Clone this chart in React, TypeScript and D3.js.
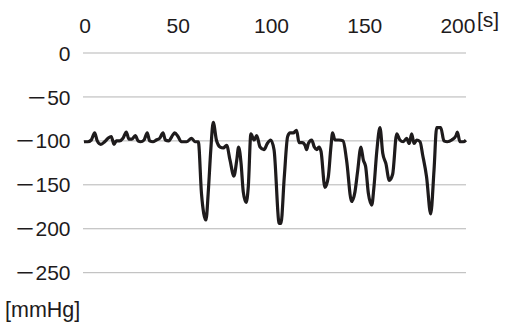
import * as d3 from 'd3';
import React from 'react';

// time [s] and pressure [mmHg]
const times = [
  0, 2, 3.9, 5.7, 7.1, 9, 11.1, 12.9, 14.6, 16.1, 17.3, 19.1, 20.9, 22.7, 24.1, 25.7,
  27.5, 29, 30.4, 32.2, 33.9, 35.2, 37, 38.8, 40.6, 42.4, 43.6, 45.4, 47.7, 48.6, 50.4,
  52.2, 55, 57.7, 59.5, 61.3, 63, 65.4, 66.7, 68, 69.3, 71, 73, 74.7, 76.5, 78.3, 80.4,
  81.9, 82.9, 84.2, 85.4, 86.9, 88.1, 89.5, 91.2, 92.6, 94.4, 96.5, 98.3, 100.1, 101.9,
  104.7, 105.6, 107.4, 109.2, 110.5, 112.2, 114, 115.3, 117, 118.5, 119.4, 120.3, 122.1,
  123.5, 124.8, 126, 127.1, 129.2, 131, 132.4, 133.3, 134.6, 136.7, 139, 140.8, 143.5,
  145.3, 146.7, 148.5, 149.8, 151, 152.5, 154.3, 155.5, 157, 158.7, 160.2, 161.9, 163.7,
  165.5, 167.7, 169.4, 171.2, 173, 174.4, 175.7, 177, 178.4, 180.2, 181.6, 183.7, 185.9,
  187.7, 189.1, 191.3, 193, 194.8, 197.2, 199.5, 200.2, 201.6, 203.4, 204.8,
];
const pressures = [
  -101, -101, -99, -91, -100, -104, -101, -97, -95, -104, -100, -100, -97, -90, -98, -98,
  -94, -100, -101, -99, -91, -100, -101, -99, -97, -91, -99, -100, -93, -91, -95,
  -101, -101, -97, -101, -101, -160, -190, -156, -110, -79, -99, -107, -108, -105, -122, -140,
  -122, -107, -125, -158, -170, -152, -92, -99, -94, -107, -110, -103, -99, -110,
  -194, -194, -141, -95, -91, -91, -88, -102, -102, -105, -110, -103, -99,
  -107, -110, -107, -112, -153, -141, -107, -91, -99, -99, -100, -122, -169,
  -158, -135, -107, -122, -129, -160, -173, -152, -112, -85, -114, -126, -145,
  -138, -92, -99, -101, -97, -103, -92, -103, -99, -101, -116, -141, -183,
  -133, -85, -85, -100, -101, -99, -94, -90, -101, -101, -99,
];
const xTicks = [0, 50, 100, 150, 200];
const yTicks = [0, -50, -100, -150, -200, -250];

const W = 507;
const H = 322;
const font = "'Liberation Sans', 'Noto Sans CJK JP', sans-serif";
const ink = '#1e1b1c';

export default function App() {
  const x = d3.scaleLinear().domain([0, 205]).range([84, 466.3]);
  const y = d3.scaleLinear().domain([-250, 0]).range([272.7, 53]);

  const pts: [number, number][] = times.map((t, i) => [t, pressures[i]]);
  const line = d3
    .line<[number, number]>()
    .x((d) => x(d[0]))
    .y((d) => y(d[1]))
    .curve(d3.curveMonotoneX);

  const fmt = (v: number) => (v < 0 ? '－' + Math.abs(v) : String(v));

  return (
    <div style={{ position: 'fixed', left: 0, top: 0 }}>
      <svg width={W} height={H} style={{ display: 'block', background: '#fff' }}>
        {/* grid */}
        {yTicks.map((v) => (
          <line key={v} x1={83} x2={466} y1={y(v)} y2={y(v)} stroke="#b5b5b5" strokeWidth={1} />
        ))}
        {/* y labels */}
        {yTicks.map((v) => (
          <text
            key={'yl' + v}
            x={70.5}
            y={y(v)}
            dy="0.36em"
            textAnchor="end"
            fontFamily={font}
            fontSize={21}
            fill={ink}
          >
            {fmt(v)}
          </text>
        ))}
        {/* x labels */}
        {xTicks.map((v) => (
          <text
            key={'xl' + v}
            x={x(v) + 1}
            y={32.5}
            textAnchor="middle"
            fontFamily={font}
            fontSize={21}
            fill={ink}
          >
            {v}
          </text>
        ))}
        <text x={477} y={27} fontFamily={font} fontSize={21} fill={ink}>
          [s]
        </text>
        <text x={5} y={316.5} fontFamily={font} fontSize={21.5} fill={ink}>
          [mmHg]
        </text>
        <path d={line(pts) || ''} fill="none" stroke={ink} strokeWidth={3.2} strokeLinejoin="round" />
      </svg>
    </div>
  );
}
